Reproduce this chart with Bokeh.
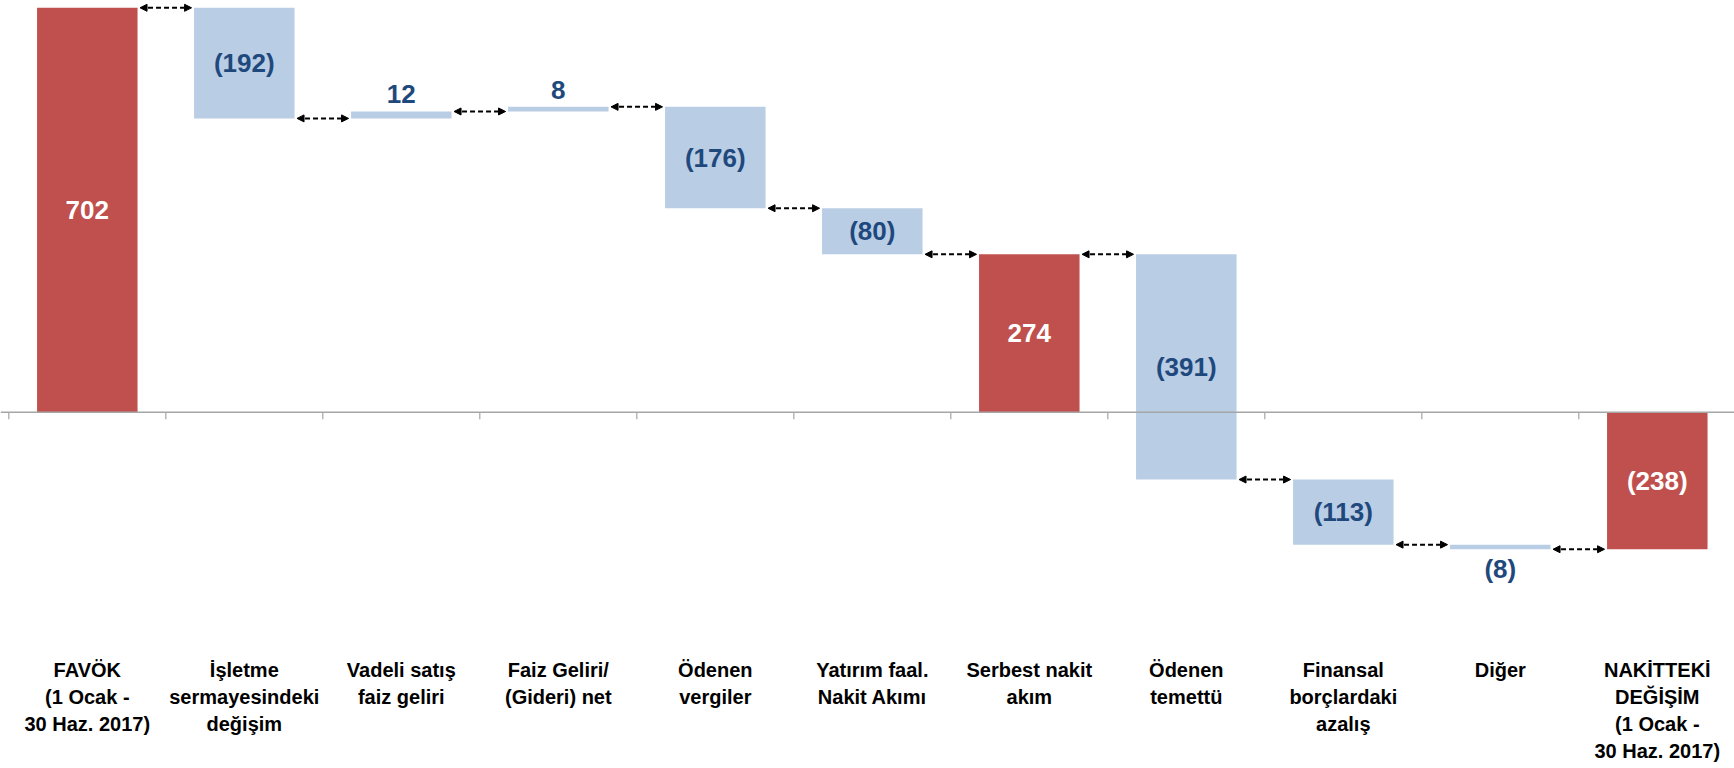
from bokeh.plotting import figure
from bokeh.models import Range1d, ColumnDataSource, Arrow, NormalHead, Span
from bokeh.core.properties import value
from bokeh.embed import file_html
from bokeh.resources import INLINE

# ---- data ----
categories = [
    "FAVÖK\n(1 Ocak -\n30 Haz. 2017)",
    "İşletme\nsermayesindeki\ndeğişim",
    "Vadeli satış\nfaiz geliri",
    "Faiz Geliri/\n(Gideri) net",
    "Ödenen\nvergiler",
    "Yatırım faal.\nNakit Akımı",
    "Serbest nakit\nakım",
    "Ödenen\ntemettü",
    "Finansal\nborçlardaki\nazalış",
    "Diğer",
    "NAKİTTEKİ\nDEĞİŞİM\n(1 Ocak -\n30 Haz. 2017)",
]
values = [702, -192, 12, 8, -176, -80, 274, -391, -113, -8, -238]
is_total = [True, False, False, False, False, False, True, False, False, False, True]
value_labels = ["702", "(192)", "12", "8", "(176)", "(80)", "274", "(391)", "(113)", "(8)", "(238)"]

# ---- style ----
RED = "#C0504D"
BLUE = "#B9CDE5"
DARK = "#1F497D"
AXIS_GRAY = "#A6A6A6"
FONT = value("Liberation Sans")

PX_X = 157.0      # pixels per category
PX_Y = 0.576      # pixels per unit
W, H = 1734, 768
LEFT_PAD = 8.3    # pixels from frame left to first category boundary
TOP_PAD = 7.3     # pixels from frame top to the highest bar top
BAR_W = 0.64

x0 = -LEFT_PAD / PX_X
y_top = max(values) + TOP_PAD / PX_Y

p = figure(width=W, height=H, output_backend="svg", toolbar_location=None,
           x_range=Range1d(x0, x0 + W / PX_X), y_range=Range1d(y_top - H / PX_Y, y_top),
           min_border=0, min_border_left=0, min_border_right=0,
           min_border_top=0, min_border_bottom=0)
p.outline_line_color = None
p.xaxis.visible = False
p.yaxis.visible = False
p.grid.visible = False
p.background_fill_color = "white"
p.border_fill_color = "white"

# ---- waterfall computation ----
n = len(values)
centers = [i + 0.5 for i in range(n)]
running = 0
bottoms, tops, ends = [], [], []
for v, t in zip(values, is_total):
    if t:
        b, e = 0, v
    else:
        b, e = running, running + v
    running = e
    ends.append(e)
    bottoms.append(min(b, e))
    tops.append(max(b, e))
colors = [RED if t else BLUE for t in is_total]

bars = ColumnDataSource(dict(x=centers, bottom=bottoms, top=tops, color=colors))
p.vbar(x="x", bottom="bottom", top="top", width=BAR_W, fill_color="color",
       line_color=None, source=bars)

# ---- zero axis line and ticks ----
p.add_layout(Span(location=0, dimension="width", line_color=AXIS_GRAY, line_width=1.5))
tick_len = 7 / PX_Y
bounds = list(range(n + 1))
p.segment(x0=bounds, y0=[0] * len(bounds), x1=bounds, y1=[-tick_len] * len(bounds),
          line_color=AXIS_GRAY, line_width=1.2)

# ---- connector arrows ----
gap = 2.5 / PX_X
xs, xe, ys = [], [], []
for i in range(n - 1):
    xs.append(centers[i] + BAR_W / 2 + gap)
    xe.append(centers[i + 1] - BAR_W / 2 - gap)
    ys.append(ends[i])
arr_src = ColumnDataSource(dict(xs=xs, xe=xe, y=ys))
p.add_layout(Arrow(
    start=NormalHead(size=7, fill_color="black", line_color="black", line_width=1),
    end=NormalHead(size=7, fill_color="black", line_color="black", line_width=1),
    x_start="xs", y_start="y", x_end="xe", y_end="y", source=arr_src,
    line_color="black", line_width=2, line_dash="5 3"))

# ---- value labels ----
ly, loff, lcol = [], [], []
for v, t, b, tp in zip(values, is_total, bottoms, tops):
    lcol.append("white" if t else DARK)
    if abs(v) < 20:
        if v > 0:
            ly.append(tp); loff.append(-17)
        else:
            ly.append(b); loff.append(20)
    else:
        ly.append((b + tp) / 2); loff.append(0)
lab_src = ColumnDataSource(dict(x=centers, y=ly, off=loff, text=value_labels, color=lcol))
p.text(x="x", y="y", text="text", y_offset="off", source=lab_src,
       text_color="color", text_font=FONT, text_font_style="bold",
       text_font_size="26px", text_align="center", text_baseline="middle")

# ---- category labels ----
cx, cy, coff, ctext = [], [], [], []
for c, lbl in zip(centers, categories):
    for k, line in enumerate(lbl.split("\n")):
        cx.append(c); cy.append(0); coff.append(258 + 27 * k); ctext.append(line)
cat_src = ColumnDataSource(dict(x=cx, y=cy, off=coff, text=ctext))
p.text(x="x", y="y", text="text", y_offset="off", source=cat_src,
       text_color="black", text_font=FONT, text_font_style="bold",
       text_font_size="20px", text_align="center", text_baseline="middle")

open("out.html", "w").write(file_html(p, INLINE))
